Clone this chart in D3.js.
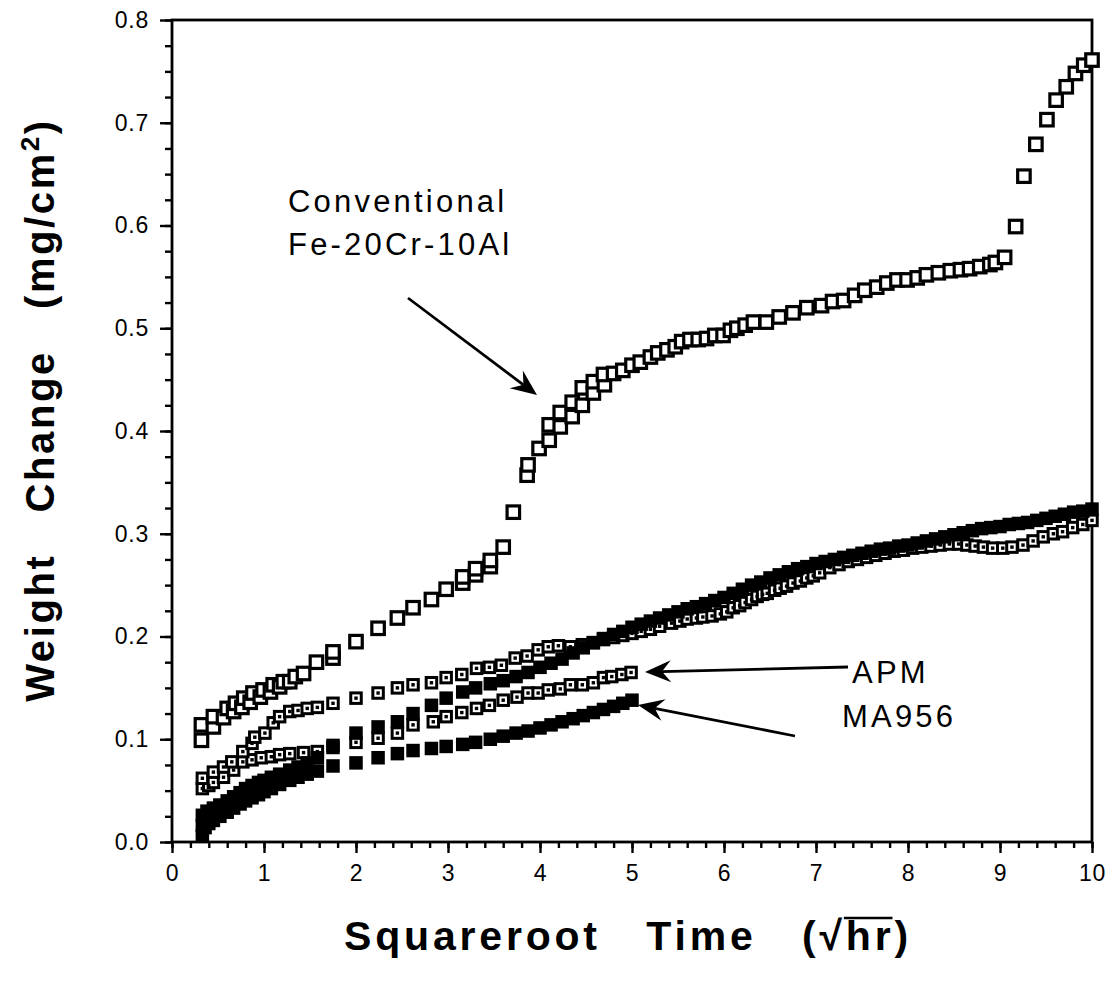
<!DOCTYPE html>
<html>
<head>
<meta charset="utf-8">
<script src="https://cdn.jsdelivr.net/npm/d3@7"></script>
<style>
  html, body { margin: 0; padding: 0; background: #fff; }
  svg { display: block; }
  text { font-family: "Liberation Sans", Arial, Helvetica, sans-serif; fill: #000; }
</style>
</head>
<body>
<svg id="chart" width="1112" height="982"></svg>
<script>
// Weight change of oxidised Fe-Cr-Al alloys vs square root of time

// Conventional Fe-20Cr-10Al (open squares)
const conventionalT = [0.32,0.32,0.45,0.45,0.56,0.60,0.67,0.69,0.76,0.78,0.85,0.88,0.96,0.99,1.07,1.10,1.17,1.21,1.28,1.34,1.43,1.57,1.75,1.75,2.00,2.24,2.45,2.62,2.82,2.98,3.16,3.16,3.30,3.30,3.46,3.46,3.60,3.71,3.86,3.87,3.99,4.10,4.10,4.22,4.22,4.35,4.35,4.46,4.46,4.58,4.58,4.70,4.69,4.80,4.90,5.00,5.09,5.20,5.28,5.38,5.47,5.54,5.63,5.72,5.81,5.90,5.99,6.07,6.14,6.23,6.32,6.46,6.60,6.75,6.90,7.06,7.18,7.30,7.42,7.53,7.66,7.77,7.88,7.99,8.10,8.20,8.33,8.46,8.57,8.67,8.78,8.89,8.95,9.05,9.17,9.26,9.39,9.51,9.61,9.72,9.82,9.91,10.0];
const conventionalW = [0.099,0.114,0.112,0.122,0.121,0.130,0.127,0.135,0.131,0.140,0.136,0.145,0.141,0.148,0.146,0.153,0.151,0.156,0.156,0.161,0.164,0.175,0.179,0.185,0.195,0.208,0.218,0.228,0.236,0.246,0.252,0.258,0.260,0.266,0.268,0.274,0.287,0.321,0.357,0.367,0.383,0.391,0.406,0.404,0.418,0.414,0.428,0.425,0.442,0.437,0.448,0.445,0.455,0.456,0.459,0.464,0.467,0.472,0.476,0.479,0.482,0.487,0.489,0.489,0.490,0.493,0.493,0.498,0.500,0.503,0.506,0.506,0.511,0.515,0.520,0.522,0.526,0.527,0.532,0.537,0.540,0.544,0.547,0.547,0.549,0.552,0.554,0.556,0.557,0.558,0.560,0.562,0.564,0.569,0.599,0.648,0.679,0.703,0.722,0.735,0.748,0.756,0.761];

// APM, specimen run to 100 h (dotted open squares)
const apmLongT = [0.33,0.45,0.56,0.65,0.77,0.87,0.90,1.01,1.10,1.17,1.28,1.37,1.47,1.58,1.75,2.00,2.24,2.45,2.62,2.82,2.98,3.15,3.31,3.45,3.58,3.73,3.86,3.98,4.09,4.20,4.33,4.46,4.58,4.69,4.80,4.90,5.00,5.10,5.20,5.30,5.43,5.52,5.60,5.70,5.77,5.87,5.96,6.03,6.10,6.17,6.23,6.30,6.36,6.42,6.47,6.55,6.61,6.68,6.75,6.83,6.90,6.97,7.04,7.15,7.25,7.35,7.45,7.55,7.65,7.75,7.85,7.95,8.05,8.15,8.25,8.35,8.45,8.55,8.64,8.73,8.82,8.92,9.03,9.13,9.25,9.36,9.47,9.58,9.68,9.79,9.90,10.0];
const apmLongW = [0.062,0.068,0.073,0.078,0.088,0.096,0.102,0.106,0.116,0.122,0.127,0.128,0.130,0.131,0.135,0.140,0.145,0.150,0.153,0.155,0.160,0.163,0.169,0.170,0.172,0.179,0.181,0.187,0.190,0.191,0.190,0.192,0.194,0.197,0.199,0.201,0.203,0.205,0.207,0.210,0.213,0.215,0.217,0.218,0.219,0.220,0.222,0.224,0.228,0.230,0.233,0.236,0.239,0.241,0.242,0.245,0.247,0.249,0.252,0.254,0.257,0.259,0.262,0.267,0.270,0.273,0.275,0.277,0.279,0.281,0.283,0.284,0.286,0.287,0.288,0.289,0.290,0.290,0.289,0.288,0.287,0.286,0.286,0.287,0.289,0.293,0.297,0.300,0.302,0.306,0.309,0.313];

// APM, specimen run to 25 h
const apmShortT = [0.33,0.40,0.45,0.56,0.67,0.77,0.87,0.97,1.08,1.17,1.28,1.43,1.58,1.75,2.00,2.24,2.45,2.62,2.84,2.98,3.15,3.31,3.45,3.60,3.75,3.87,3.98,4.09,4.22,4.33,4.46,4.58,4.69,4.78,4.89,4.99];
const apmShortW = [0.052,0.055,0.058,0.063,0.070,0.078,0.080,0.082,0.083,0.085,0.086,0.087,0.088,0.092,0.097,0.101,0.106,0.114,0.117,0.122,0.126,0.130,0.133,0.138,0.141,0.145,0.145,0.148,0.149,0.153,0.153,0.155,0.160,0.161,0.163,0.165];

// MA956, specimen run to 100 h (filled squares)
const ma956LongT = [0.33,0.38,0.45,0.52,0.60,0.67,0.74,0.80,0.87,0.94,1.00,1.08,1.17,1.28,1.37,1.47,1.58,1.75,2.00,2.24,2.45,2.62,2.82,2.98,3.16,3.30,3.46,3.60,3.74,3.87,4.00,4.12,4.24,4.36,4.47,4.58,4.69,4.80,4.90,5.00,5.10,5.20,5.30,5.40,5.50,5.60,5.70,5.80,5.90,6.00,6.10,6.20,6.30,6.40,6.50,6.60,6.70,6.80,6.90,7.00,7.10,7.20,7.30,7.40,7.50,7.60,7.70,7.80,7.90,8.00,8.10,8.20,8.30,8.40,8.50,8.60,8.70,8.80,8.90,9.00,9.10,9.20,9.30,9.40,9.50,9.60,9.70,9.80,9.90,10.0];
const ma956LongW = [0.026,0.030,0.033,0.036,0.040,0.044,0.048,0.052,0.055,0.058,0.060,0.063,0.066,0.070,0.073,0.077,0.082,0.094,0.106,0.112,0.117,0.125,0.133,0.140,0.146,0.150,0.154,0.157,0.161,0.165,0.170,0.174,0.178,0.184,0.189,0.194,0.198,0.202,0.205,0.209,0.212,0.215,0.218,0.221,0.224,0.227,0.229,0.232,0.235,0.238,0.242,0.246,0.250,0.253,0.257,0.260,0.263,0.266,0.268,0.271,0.273,0.275,0.277,0.279,0.281,0.283,0.285,0.286,0.288,0.289,0.291,0.293,0.295,0.297,0.299,0.301,0.303,0.305,0.306,0.307,0.309,0.310,0.311,0.313,0.315,0.317,0.319,0.321,0.322,0.324];

// MA956, specimen run to 25 h
const ma956ShortT = [0.33,0.33,0.36,0.40,0.45,0.52,0.60,0.67,0.74,0.80,0.87,0.94,1.00,1.08,1.17,1.28,1.37,1.47,1.58,1.75,2.00,2.24,2.45,2.62,2.82,2.98,3.16,3.30,3.46,3.60,3.74,3.87,4.00,4.12,4.24,4.36,4.47,4.58,4.69,4.80,4.90,5.00];
const ma956ShortW = [0.006,0.016,0.014,0.018,0.021,0.025,0.029,0.033,0.037,0.040,0.043,0.046,0.049,0.052,0.056,0.060,0.063,0.066,0.069,0.074,0.077,0.082,0.086,0.089,0.091,0.093,0.095,0.097,0.100,0.103,0.106,0.108,0.111,0.114,0.117,0.120,0.123,0.126,0.129,0.132,0.135,0.138];

const xMajorTicks = [0,1,2,3,4,5,6,7,8,9,10];
const yMajorTicks = [0,0.1,0.2,0.3,0.4,0.5,0.6,0.7,0.8];

const svg = d3.select("#chart");
svg.append("rect").attr("width", 1112).attr("height", 982).attr("fill", "#fff");

const x = d3.scaleLinear().domain([0, 10]).range([172, 1092]);
const y = d3.scaleLinear().domain([0, 0.8]).range([842, 20]);

const zip = (a, b) => a.map((v, i) => [v, b[i]]);

// axes
const xMinor = d3.range(0, 10.001, 0.2);
const yMinor = d3.range(0, 0.8001, 0.025);

function styleAxis(g) {
  g.select(".domain").remove();
  g.selectAll(".tick line").attr("stroke", "#000").attr("stroke-width", 2.4);
  g.selectAll(".tick text").attr("font-size", 23).attr("letter-spacing", 0.8).attr("fill", "#000")
    .style("font-family", '"Liberation Sans", Arial, sans-serif');
}

svg.append("g").attr("transform", `translate(0,${y(0)})`)
  .call(d3.axisBottom(x).tickValues(xMinor).tickSize(6).tickFormat(""))
  .call(styleAxis);
svg.append("g").attr("transform", `translate(0,${y(0)})`)
  .call(d3.axisBottom(x).tickValues(xMajorTicks).tickSize(11).tickPadding(12).tickFormat(d3.format("d")))
  .call(styleAxis);
svg.append("g").attr("transform", `translate(${x(0)},0)`)
  .call(d3.axisLeft(y).tickValues(yMinor).tickSize(7).tickFormat(""))
  .call(styleAxis);
svg.append("g").attr("transform", `translate(${x(0)},0)`)
  .call(d3.axisLeft(y).tickValues(yMajorTicks).tickSize(12).tickPadding(11).tickFormat(d3.format(".1f")))
  .call(styleAxis);

// plot frame
svg.append("rect")
  .attr("x", x(0)).attr("y", y(0.8))
  .attr("width", x(10) - x(0)).attr("height", y(0) - y(0.8))
  .attr("fill", "none").attr("stroke", "#000").attr("stroke-width", 2.8);

// markers
const marks = svg.append("g");

function openSquares(data, size, sw) {
  marks.append("g").selectAll("rect").data(data).join("rect")
    .attr("x", d => x(d[0]) - size / 2).attr("y", d => y(d[1]) - size / 2)
    .attr("width", size).attr("height", size)
    .attr("fill", "#fff").attr("stroke", "#000").attr("stroke-width", sw);
}
function dottedSquares(data, size, sw) {
  const g = marks.append("g");
  g.selectAll("rect.box").data(data).join("rect").attr("class", "box")
    .attr("x", d => x(d[0]) - size / 2).attr("y", d => y(d[1]) - size / 2)
    .attr("width", size).attr("height", size)
    .attr("fill", "#fff").attr("stroke", "#000").attr("stroke-width", sw);
  g.selectAll("rect.dot").data(data).join("rect").attr("class", "dot")
    .attr("x", d => x(d[0]) - 1.7).attr("y", d => y(d[1]) - 1.7)
    .attr("width", 3.4).attr("height", 3.4).attr("fill", "#000");
}
function filledSquares(data, size) {
  marks.append("g").selectAll("rect").data(data).join("rect")
    .attr("x", d => x(d[0]) - size / 2).attr("y", d => y(d[1]) - size / 2)
    .attr("width", size).attr("height", size).attr("fill", "#000");
}

openSquares(zip(conventionalT, conventionalW), 12.5, 3.2);
dottedSquares(zip(apmShortT, apmShortW), 10.5, 3);
dottedSquares(zip(apmLongT, apmLongW), 10.5, 3);
filledSquares(zip(ma956ShortT, ma956ShortW), 13.5);
filledSquares(zip(ma956LongT, ma956LongW), 13.5);

// annotation arrows
function arrow(x1, y1, x2, y2) {
  const ang = Math.atan2(y2 - y1, x2 - x1);
  const len = 26, half = 11, notch = 9;
  const ca = Math.cos(ang), sa = Math.sin(ang);
  const bx = x2 - len * ca, by = y2 - len * sa;
  const p1 = [bx - half * sa, by + half * ca];
  const p2 = [bx + half * sa, by - half * ca];
  const pn = [x2 - (len - notch) * ca, y2 - (len - notch) * sa];
  svg.append("line")
    .attr("x1", x1).attr("y1", y1).attr("x2", pn[0]).attr("y2", pn[1])
    .attr("stroke", "#000").attr("stroke-width", 2.8);
  svg.append("path")
    .attr("d", `M${x2},${y2}L${p1[0]},${p1[1]}L${pn[0]},${pn[1]}L${p2[0]},${p2[1]}Z`)
    .attr("fill", "#000");
}
arrow(408, 298, 537, 395);
arrow(848, 667, 645, 672);
arrow(795, 736, 638, 705);

// annotation labels
const lab = (t, px, py) => svg.append("text").attr("x", px).attr("y", py)
  .attr("font-size", 31).attr("letter-spacing", 3.2).text(t);
lab("Conventional", 288, 212);
lab("Fe-20Cr-10Al", 288, 255);
lab("APM", 852, 683);
lab("MA956", 842, 727);

// axis titles
const xt = svg.append("text").attr("x", 628).attr("y", 950)
  .attr("text-anchor", "middle").attr("font-size", 41).attr("font-weight", "bold")
  .attr("letter-spacing", 3.8).style("white-space", "pre")
  .text("Squareroot   Time   (\u221Ahr)");
{
  const node = xt.node();
  const s = node.textContent;
  const i = s.indexOf("hr");
  const a = node.getStartPositionOfChar(i);
  const b = node.getEndPositionOfChar(i + 1);
  svg.append("line").attr("x1", a.x - 2).attr("x2", b.x - 2)
    .attr("y1", 950 - 32).attr("y2", 950 - 32)
    .attr("stroke", "#000").attr("stroke-width", 2.4);
}

const yt = svg.append("text").attr("transform", "translate(54,410) rotate(-90)")
  .attr("text-anchor", "middle").attr("font-size", 40).attr("font-weight", "bold")
  .attr("letter-spacing", 2.6).style("white-space", "pre");
yt.append("tspan").text("Weight   Change   (mg/cm");
yt.append("tspan").attr("dy", -15).attr("font-size", 26).text("2");
yt.append("tspan").attr("dy", 15).text(")");
</script>
</body>
</html>
